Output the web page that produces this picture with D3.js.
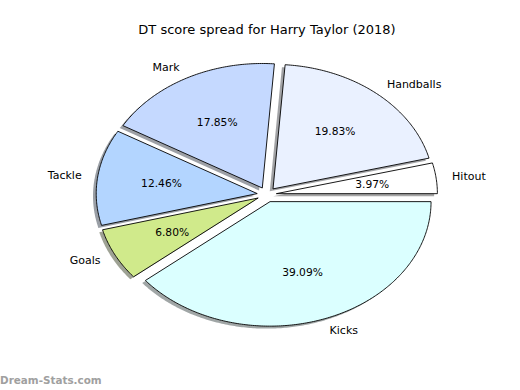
<!DOCTYPE html>
<html>
<head>
<meta charset="utf-8">
<script src="https://cdn.jsdelivr.net/npm/d3@7"></script>
<style>
  body { margin: 0; background: #fff; }
  text { font-family: "DejaVu Sans", sans-serif; }
</style>
</head>
<body>
<div id="chart"></div>
<script>
// data
var labels = ["Hitout", "Handballs", "Mark", "Tackle", "Goals", "Kicks"];
var values = [3.97, 19.83, 17.85, 12.46, 6.80, 39.09];
var colors = ["#ffffff", "#eaf1ff", "#c5d9ff", "#b3d5ff", "#d0ea8b", "#dbffff"];

var w = 520, h = 390;
var cx = 266.8, cy = 194.6, rx = 161, ry = 124.5;
var explode = 0.06;

var x = d3.scaleLinear().domain([-1, 1]).range([cx - rx, cx + rx]);
var y = d3.scaleLinear().domain([-1, 1]).range([cy + ry, cy - ry]);

var svg = d3.select("#chart").append("svg")
  .attr("width", w).attr("height", h);

// wedges, counterclockwise from 3 o'clock like matplotlib
var total = d3.sum(values);
var wedges = [];
var acc = 0;
values.forEach(function(v, i) {
  var t1 = acc / total * 360, t2 = (acc + v) / total * 360;
  acc += v;
  var mid = (t1 + t2) / 2 * Math.PI / 180;
  wedges.push({
    label: labels[i], value: v, color: colors[i],
    t1: t1, t2: t2, mid: mid,
    ox: explode * Math.cos(mid), oy: explode * Math.sin(mid)
  });
});

var line = d3.line()
  .x(function(p) { return x(p[0]); })
  .y(function(p) { return y(p[1]); });

function wedgePts(d, dx, dy) {
  var n = Math.max(4, Math.ceil((d.t2 - d.t1) * 1.5));
  var pts = [[d.ox + dx, d.oy + dy]];
  d3.range(n + 1).forEach(function(k) {
    var a = (d.t1 + (d.t2 - d.t1) * k / n) * Math.PI / 180;
    pts.push([d.ox + dx + Math.cos(a), d.oy + dy + Math.sin(a)]);
  });
  return pts;
}

// shadows first
svg.append("g").selectAll("path.shadow")
  .data(wedges).enter().append("path")
  .attr("class", "shadow")
  .attr("d", function(d) { return line(wedgePts(d, -0.02, -0.02)) + "Z"; })
  .attr("fill", function(d) {
    var c = d3.rgb(d.color);
    return d3.rgb(c.r * 0.3, c.g * 0.3, c.b * 0.3);
  })
  .attr("fill-opacity", 0.5)
  .attr("stroke", "none");

svg.append("g").selectAll("path.wedge")
  .data(wedges).enter().append("path")
  .attr("class", "wedge")
  .attr("d", function(d) { return line(wedgePts(d, 0, 0)) + "Z"; })
  .attr("fill", function(d) { return d.color; })
  .attr("stroke", "#000")
  .attr("stroke-width", 0.9)
  .attr("stroke-linejoin", "miter");

// outside labels
svg.append("g").selectAll("text")
  .data(wedges).enter().append("text")
  .attr("x", function(d) { return x(d.ox + 1.1 * Math.cos(d.mid)); })
  .attr("y", function(d) { return y(d.oy + 1.1 * Math.sin(d.mid)); })
  .attr("dy", "0.35em")
  .attr("text-anchor", function(d) { return Math.cos(d.mid) > 0 ? "start" : "end"; })
  .attr("font-size", 11)
  .attr("fill", "#000")
  .text(function(d) { return d.label; });

// percentages
svg.append("g").selectAll("text")
  .data(wedges).enter().append("text")
  .attr("x", function(d) { return x(d.ox + 0.6 * Math.cos(d.mid)); })
  .attr("y", function(d) { return y(d.oy + 0.6 * Math.sin(d.mid)); })
  .attr("dy", "0.35em")
  .attr("text-anchor", "middle")
  .attr("font-size", 10.7)
  .attr("fill", "#000")
  .text(function(d) { return d.value.toFixed(2) + "%"; });

svg.append("text")
  .attr("x", 267).attr("y", 29)
  .attr("dy", "0.35em")
  .attr("text-anchor", "middle")
  .attr("font-size", 13)
  .text("DT score spread for Harry Taylor (2018)");

svg.append("text")
  .attr("x", 0).attr("y", 380)
  .attr("dy", "0.35em")
  .attr("font-size", 10.4)
  .attr("font-weight", "bold")
  .attr("fill", "#a0a0a0")
  .text("Dream-Stats.com");
</script>
</body>
</html>
